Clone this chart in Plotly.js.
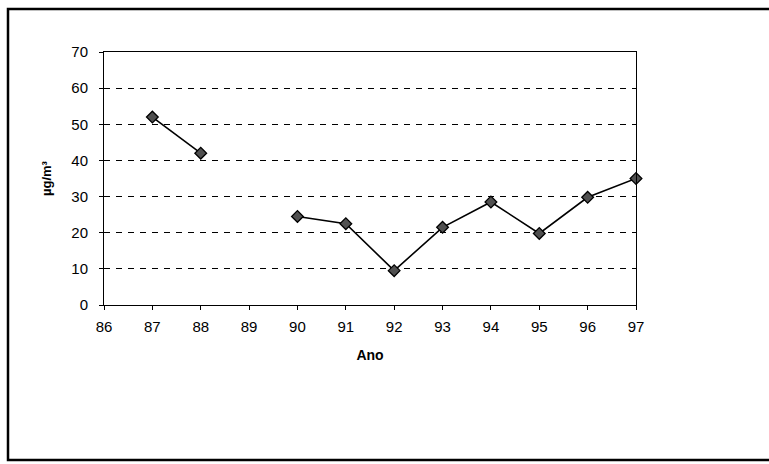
<!DOCTYPE html>
<html>
<head>
<meta charset="utf-8">
<script src="https://cdn.plot.ly/plotly-3.0.1.min.js"></script>
<style>html,body{margin:0;padding:0;background:#fff;}#chart{width:769px;height:464px;}</style>
</head>
<body>
<div id="chart"></div>
<script>
var years = [86, 87, 88, 89, 90, 91, 92, 93, 94, 95, 96, 97];
var values = [null, 52, 42, null, 24.5, 22.5, 9.5, 21.5, 28.5, 19.8, 29.8, 35];
var xTickLabels = ['86','87','88','89','90','91','92','93','94','95','96','97'];
var yTicks = [0, 10, 20, 30, 40, 50, 60, 70];

var trace = {
  x: years, y: values, type: 'scatter', mode: 'lines+markers',
  connectgaps: false, cliponaxis: false,
  line: {color: '#000', width: 1.6},
  marker: {symbol: 'diamond', size: 9, color: '#505050', line: {color: '#000', width: 1.3}},
  hoverinfo: 'skip'
};

var fontFam = 'Liberation Sans, Arial, sans-serif';
var layout = {
  width: 769, height: 464,
  margin: {l: 104, r: 133, t: 52, b: 159},
  paper_bgcolor: '#fff', plot_bgcolor: '#fff',
  showlegend: false,
  font: {family: fontFam, color: '#000', size: 12},
  xaxis: {
    range: [86, 97], tickvals: years, ticktext: xTickLabels,
    showgrid: false, zeroline: false,
    showline: true, linecolor: '#000', linewidth: 1, mirror: true,
    ticks: 'outside', ticklen: 4, tickcolor: '#000', ticklabelstandoff: 4,
    tickfont: {size: 15, family: fontFam},
    title: {text: '<b>Ano</b>', font: {size: 14, family: fontFam}, standoff: 16}
  },
  yaxis: {
    range: [0, 70], tickvals: yTicks,
    showgrid: true, gridcolor: '#000', gridwidth: 1, griddash: '6px,6px',
    zeroline: false,
    showline: true, linecolor: '#000', linewidth: 1, mirror: true,
    ticks: 'outside', ticklen: 4, tickcolor: '#000', ticklabelstandoff: 8,
    tickfont: {size: 15, family: fontFam},
    title: {text: '<b>µg/m³</b>', font: {size: 13, family: fontFam}, standoff: 16}
  },
  shapes: [{
    type: 'rect', xref: 'paper', yref: 'paper',
    x0: (8 - 104) / 532, x1: (780 - 104) / 532,
    y0: (305 - 460) / 253, y1: (305 - 9) / 253,
    line: {color: '#000', width: 2.5}, fillcolor: 'rgba(0,0,0,0)', layer: 'below'
  }]
};

Plotly.newPlot('chart', [trace], layout, {staticPlot: true, displayModeBar: false});
</script>
</body>
</html>
